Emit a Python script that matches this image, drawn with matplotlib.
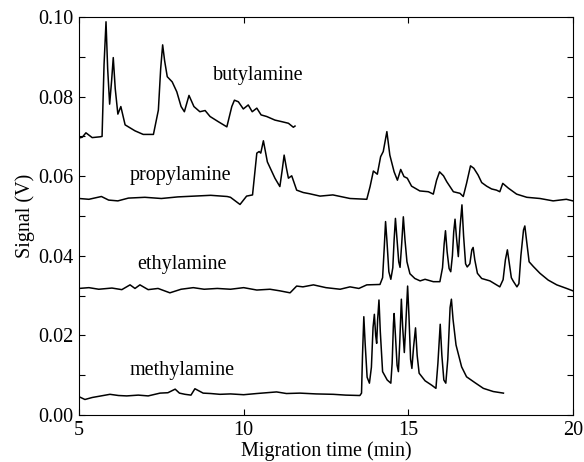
import matplotlib
matplotlib.use('Agg')
import matplotlib.pyplot as plt
from matplotlib.ticker import MultipleLocator

plt.rcParams['font.family'] = ['Liberation Serif', 'DejaVu Serif']

# migration time (min) / signal (V)
buty_t = [5.00, 5.10, 5.21, 5.40, 5.64, 5.70, 5.76, 5.82, 5.87, 5.93, 5.99, 6.04,
          6.10, 6.18, 6.27, 6.40, 6.70, 6.95, 7.26, 7.41, 7.48, 7.54, 7.60, 7.68,
          7.83, 7.97, 8.10, 8.20, 8.34, 8.49, 8.67, 8.83, 8.98, 9.23, 9.49, 9.64,
          9.72, 9.84, 9.99, 10.14, 10.26, 10.40, 10.53, 10.70, 10.95, 11.16, 11.36,
          11.51, 11.56]
buty_v = [0.0696, 0.0698, 0.0709, 0.0697, 0.0699, 0.0700, 0.0880, 0.0988, 0.0870,
          0.0781, 0.0840, 0.0898, 0.0820, 0.0756, 0.0775, 0.0729, 0.0714, 0.0705,
          0.0705, 0.0766, 0.0870, 0.0930, 0.0890, 0.0850, 0.0837, 0.0812, 0.0775,
          0.0762, 0.0803, 0.0775, 0.0762, 0.0765, 0.0750, 0.0737, 0.0724, 0.0775,
          0.0791, 0.0787, 0.0769, 0.0779, 0.0762, 0.0771, 0.0754, 0.0750, 0.0741,
          0.0737, 0.0733, 0.0723, 0.0726]

prop_t = [5.00, 5.30, 5.68, 5.90, 6.18, 6.50, 7.00, 7.50, 8.00, 8.50, 9.00, 9.50,
          9.60, 9.89, 10.09, 10.27, 10.40, 10.47, 10.52, 10.60, 10.72, 10.95,
          11.10, 11.17, 11.23, 11.30, 11.36, 11.46, 11.61, 11.81, 12.00, 12.32,
          12.71, 13.23, 13.74, 13.84, 13.94, 14.06, 14.16, 14.24, 14.35, 14.44,
          14.57, 14.67, 14.77, 14.87, 14.97, 15.10, 15.35, 15.61, 15.76, 15.86,
          15.95, 16.07, 16.17, 16.37, 16.57, 16.67, 16.77, 16.89, 16.99, 17.12,
          17.23, 17.38, 17.53, 17.68, 17.78, 17.87, 18.04, 18.29, 18.60, 19.00,
          19.40, 19.80, 20.00]
prop_v = [0.0544, 0.0542, 0.0549, 0.0540, 0.0538, 0.0545, 0.0547, 0.0544, 0.0548,
          0.0550, 0.0552, 0.0549, 0.0547, 0.0529, 0.0550, 0.0553, 0.0658, 0.0662,
          0.0658, 0.0689, 0.0636, 0.0595, 0.0574, 0.0615, 0.0653, 0.0620, 0.0595,
          0.0601, 0.0565, 0.0559, 0.0556, 0.0550, 0.0553, 0.0544, 0.0542, 0.0574,
          0.0613, 0.0605, 0.0649, 0.0662, 0.0712, 0.0653, 0.0611, 0.0590, 0.0617,
          0.0599, 0.0595, 0.0575, 0.0563, 0.0561, 0.0555, 0.0590, 0.0611, 0.0601,
          0.0586, 0.0561, 0.0557, 0.0549, 0.0582, 0.0626, 0.0620, 0.0603, 0.0584,
          0.0575, 0.0568, 0.0565, 0.0561, 0.0582, 0.0570, 0.0555, 0.0547, 0.0544,
          0.0538, 0.0542, 0.0538]

ethy_t = [5.00, 5.30, 5.60, 6.00, 6.30, 6.55, 6.70, 6.85, 7.10, 7.40, 7.76, 8.10,
          8.47, 8.80, 9.20, 9.60, 10.00, 10.40, 10.80, 11.10, 11.41, 11.61, 11.80,
          12.12, 12.50, 12.93, 13.23, 13.50, 13.74, 14.14, 14.22, 14.27, 14.31,
          14.35, 14.41, 14.47, 14.53, 14.57, 14.61, 14.65, 14.71, 14.75, 14.80,
          14.85, 14.90, 14.96, 15.05, 15.20, 15.36, 15.51, 15.76, 15.96, 16.04,
          16.09, 16.13, 16.18, 16.24, 16.29, 16.34, 16.38, 16.42, 16.46, 16.52,
          16.57, 16.63, 16.68, 16.74, 16.79, 16.87, 16.93, 16.97, 17.02, 17.10,
          17.23, 17.48, 17.78, 17.88, 17.95, 18.01, 18.07, 18.13, 18.19, 18.30,
          18.36, 18.42, 18.50, 18.54, 18.59, 18.67, 18.80, 19.00, 19.25, 19.51,
          19.81, 20.00]
ethy_v = [0.0318, 0.0320, 0.0316, 0.0319, 0.0315, 0.0327, 0.0318, 0.0327, 0.0315,
          0.0318, 0.0307, 0.0316, 0.0320, 0.0316, 0.0318, 0.0316, 0.0320, 0.0314,
          0.0316, 0.0312, 0.0307, 0.0324, 0.0322, 0.0327, 0.0320, 0.0316, 0.0322,
          0.0318, 0.0327, 0.0328, 0.0345, 0.0420, 0.0486, 0.0440, 0.0360, 0.0341,
          0.0370, 0.0440, 0.0494, 0.0450, 0.0385, 0.0371, 0.0430, 0.0498, 0.0440,
          0.0385, 0.0355, 0.0343, 0.0337, 0.0341, 0.0335, 0.0335, 0.0370, 0.0430,
          0.0463, 0.0410, 0.0368, 0.0360, 0.0400, 0.0460, 0.0492, 0.0450, 0.0398,
          0.0470, 0.0528, 0.0450, 0.0380, 0.0372, 0.0380, 0.0415, 0.0421, 0.0390,
          0.0356, 0.0343, 0.0337, 0.0322, 0.0340, 0.0390, 0.0415, 0.0380, 0.0345,
          0.0336, 0.0322, 0.0330, 0.0400, 0.0465, 0.0475, 0.0440, 0.0385, 0.0373,
          0.0356, 0.0339, 0.0327, 0.0318, 0.0312]

meth_t = [5.00, 5.18, 5.40, 5.94, 6.20, 6.45, 6.80, 7.10, 7.46, 7.70, 7.92, 8.05,
          8.22, 8.40, 8.52, 8.77, 9.00, 9.28, 9.60, 10.00, 10.40, 11.00, 11.30,
          11.71, 12.20, 12.72, 13.10, 13.53, 13.58, 13.61, 13.65, 13.69, 13.75,
          13.82, 13.88, 13.93, 13.97, 14.01, 14.04, 14.07, 14.11, 14.15, 14.22,
          14.36, 14.47, 14.51, 14.55, 14.57, 14.61, 14.66, 14.70, 14.74, 14.79,
          14.83, 14.88, 14.92, 14.98, 15.02, 15.07, 15.11, 15.16, 15.22, 15.27,
          15.33, 15.51, 15.71, 15.84, 15.90, 15.97, 16.02, 16.08, 16.14, 16.20,
          16.27, 16.31, 16.36, 16.45, 16.62, 16.77, 17.03, 17.28, 17.58, 17.89]
meth_v = [0.0046, 0.0039, 0.0044, 0.0052, 0.0049, 0.0048, 0.0050, 0.0048, 0.0055,
          0.0056, 0.0065, 0.0055, 0.0052, 0.0050, 0.0066, 0.0055, 0.0054, 0.0052,
          0.0053, 0.0051, 0.0054, 0.0058, 0.0054, 0.0055, 0.0053, 0.0052, 0.0050,
          0.0049, 0.0055, 0.0150, 0.0247, 0.0180, 0.0095, 0.0080, 0.0120, 0.0220,
          0.0253, 0.0200, 0.0180, 0.0240, 0.0289, 0.0210, 0.0109, 0.0088, 0.0080,
          0.0130, 0.0230, 0.0255, 0.0200, 0.0125, 0.0109, 0.0180, 0.0291, 0.0220,
          0.0157, 0.0220, 0.0324, 0.0250, 0.0140, 0.0117, 0.0170, 0.0219, 0.0150,
          0.0105, 0.0086, 0.0075, 0.0067, 0.0130, 0.0228, 0.0150, 0.0088, 0.0080,
          0.0140, 0.0270, 0.0291, 0.0240, 0.0176, 0.0121, 0.0096, 0.0081, 0.0067,
          0.0059, 0.0055]

names = ['butylamine', 'propylamine', 'ethylamine', 'methylamine']
label_x = [9.07, 6.55, 6.76, 6.52]
label_y = [0.0854, 0.0603, 0.0377, 0.0113]

fig = plt.figure(figsize=(5.84, 4.62), dpi=100)
ax = fig.add_axes([0.1353, 0.1017, 0.981 - 0.1353, 0.9632 - 0.1017])

for t, v in [(buty_t, buty_v), (prop_t, prop_v), (ethy_t, ethy_v), (meth_t, meth_v)]:
    ax.plot(t, v, color='black', lw=1.1)

for n, x, y in zip(names, label_x, label_y):
    ax.text(x, y, n, fontsize=14.5, va='center', ha='left')

ax.set_xlim(5, 20)
ax.set_ylim(0, 0.10)
ax.set_xticks([5, 10, 15, 20])
ax.set_yticks([0.00, 0.02, 0.04, 0.06, 0.08, 0.10])
ax.set_yticklabels(['0.00', '0.02', '0.04', '0.06', '0.08', '0.10'])
ax.yaxis.set_minor_locator(MultipleLocator(0.01))
ax.tick_params(which='both', direction='in', top=True, right=True,
               length=4, width=0.8, labelsize=14.5, pad=4)
ax.set_xlabel('Migration time (min)', fontsize=14.5, labelpad=1)
ax.set_ylabel('Signal (V)', fontsize=14.5, labelpad=2)

fig.savefig('out.png', dpi=100)
